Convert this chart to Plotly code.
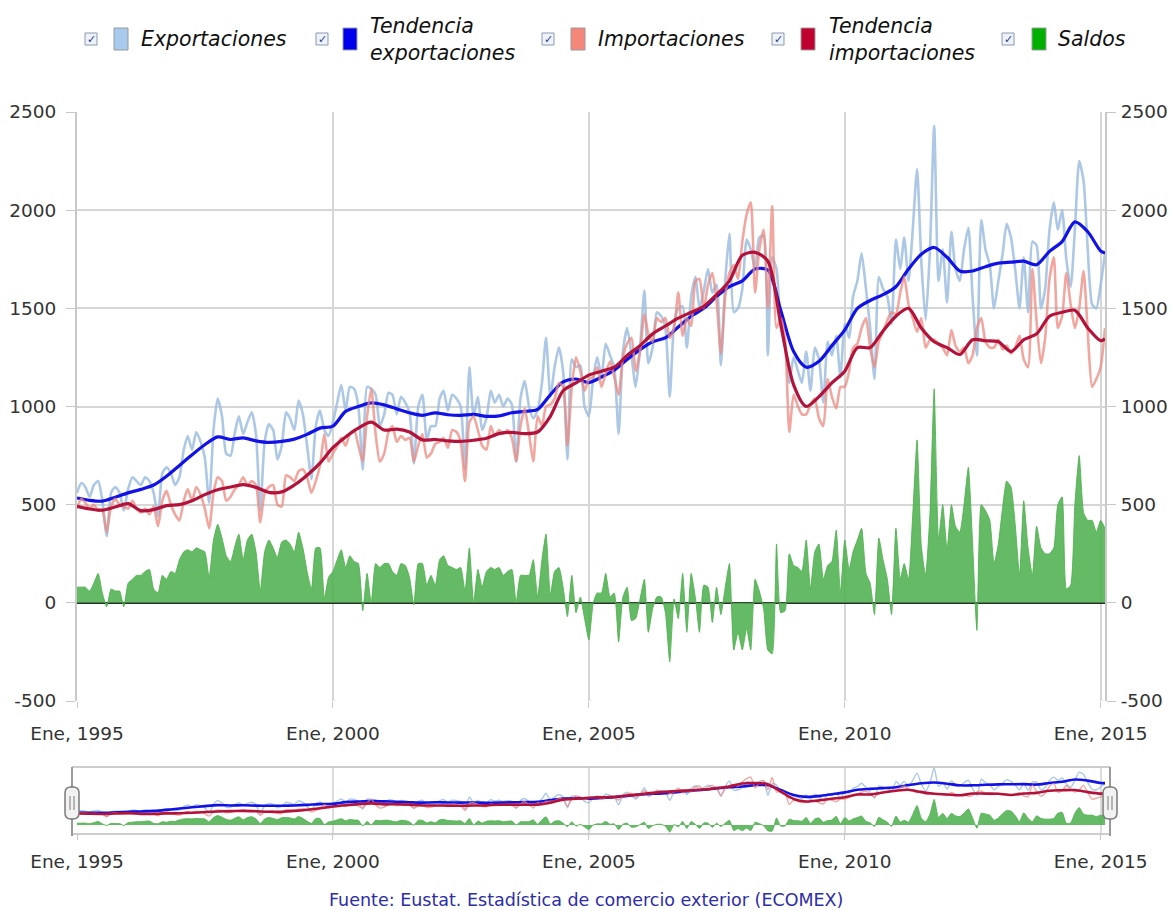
import pandas as pd
import plotly.graph_objects as go

# ---------------- DATA ----------------
months = pd.date_range("1995-01-01", "2015-02-01", freq="MS")

exportaciones = [
    560, 610, 590, 540, 600, 620, 520, 340, 560, 590, 560, 470,        # 1995
    580, 640, 620, 600, 640, 620, 560, 440, 660, 690, 660, 600,        # 1996
    640, 780, 850, 780, 870, 820, 740, 510, 880, 1040, 950, 760,       # 1997
    750, 870, 950, 860, 920, 970, 860, 470, 820, 910, 880, 730,        # 1998
    800, 970, 940, 880, 1030, 960, 800, 630, 900, 980, 880, 850,       # 1999
    920, 1020, 1110, 980, 1100, 1090, 1000, 680, 1100, 1090, 1060, 900,  # 2000
    960, 1070, 1060, 960, 1050, 1020, 970, 710, 1000, 1060, 830, 900,  # 2001
    900, 1040, 1080, 980, 1060, 1040, 1000, 680, 1200, 950, 1050, 880,  # 2002
    940, 1080, 1020, 1060, 1000, 1040, 1010, 720, 1040, 1130, 1000, 940,  # 2003
    980, 1120, 1350, 1050, 1200, 1300, 1180, 730, 1240, 1200, 1210, 1000,  # 2004
    950, 1150, 1250, 1150, 1320, 1260, 1200, 860, 1280, 1400, 1260, 1100,  # 2005
    1300, 1590, 1220, 1300, 1480, 1460, 1400, 1050, 1420, 1500, 1510, 1300,  # 2006
    1560, 1660, 1500, 1590, 1700, 1580, 1620, 1210, 1640, 1880, 1480, 1500,  # 2007
    1600, 1850, 1800, 1700, 1860, 1870, 1260, 1760, 1700, 1400, 1300, 1120,  # 2008
    1250, 1180, 1120, 1280, 1080, 1300, 1240, 1020, 1330, 1260, 1360, 1150,  # 2009
    1420, 1350, 1560, 1640, 1780, 1600, 1400, 1140, 1660, 1600, 1560, 1420,  # 2010
    1850, 1700, 1860, 1640, 1900, 2210, 1740, 1440, 1800, 2430, 1640, 1800,  # 2011
    1530, 1890, 1700, 1640, 1800, 1910, 1560, 1260, 1950, 1800, 1720, 1500,  # 2012
    1640, 1780, 1930, 1860, 1700, 1500, 1760, 1480, 1840, 1820, 1500, 1600,  # 2013
    1900, 2040, 1900, 2000, 1750, 1610, 1900, 2250, 2150, 1800, 1520, 1500,  # 2014
    1620, 1780,                                                          # 2015
]

importaciones = [
    480, 530, 510, 480, 500, 470, 470, 360, 490, 530, 500, 490,        # 1995
    480, 520, 480, 460, 480, 450, 490, 390, 520, 570, 500, 450,        # 1996
    420, 520, 580, 520, 590, 550, 480, 380, 560, 640, 620, 520,        # 1997
    540, 580, 600, 640, 600, 620, 600, 410, 560, 590, 600, 500,        # 1998
    490, 650, 640, 620, 670, 680, 640, 560, 620, 700, 860, 720,        # 1999
    760, 800, 840, 800, 860, 880, 800, 720, 950, 1090, 860, 720,       # 2000
    760, 870, 900, 820, 850, 830, 840, 720, 800, 860, 740, 760,        # 2001
    810, 820, 840, 790, 880, 870, 820, 620, 920, 950, 880, 800,        # 2002
    780, 900, 850, 880, 860, 880, 840, 720, 900, 990, 860, 720,        # 2003
    950, 900, 1000, 1010, 1040, 1120, 1100, 800, 1100, 1250, 1180, 1080,  # 2004
    1140, 1150, 1200, 1100, 1170, 1230, 1150, 1060, 1250, 1320, 1350, 1180,  # 2005
    1280, 1470, 1370, 1330, 1450, 1430, 1450, 1350, 1400, 1580, 1360, 1450,  # 2006
    1410, 1640, 1650, 1500, 1620, 1680, 1540, 1270, 1560, 1680, 1720, 1650,  # 2007
    1840, 1980, 2040, 1580, 1800, 1900, 1500, 2020, 1400, 1450, 1340, 870,  # 2008
    1060, 1000, 960, 960, 1010, 1040, 940, 900, 1140, 1050, 990, 1100,  # 2009
    1100, 1180, 1300, 1320, 1400, 1450, 1300, 1200, 1330, 1380, 1440, 1480,  # 2010
    1470, 1580, 1660, 1520, 1450, 1380, 1450, 1300, 1340, 1340, 1320, 1300,  # 2011
    1260, 1390, 1310, 1280, 1300, 1220, 1260, 1400, 1450, 1330, 1300, 1300,  # 2012
    1340, 1290, 1310, 1270, 1300, 1360, 1240, 1200, 1700, 1430, 1220, 1350,  # 2013
    1650, 1760, 1400, 1460, 1680, 1520, 1400, 1500, 1690, 1380, 1100, 1140,  # 2014
    1200, 1400,                                                          # 2015
]

# trade balance = exports - imports
saldos = [e - i for e, i in zip(exportaciones, importaciones)]

# trend series (quarterly readings: Jan, Apr, Jul, Oct; last value Feb 2015)
trend_dates = list(pd.date_range("1995-01-01", "2015-01-01", freq="QS")) + [pd.Timestamp("2015-02-01")]
tendencia_exportaciones = [
    534, 522, 518, 538,   560, 578, 600, 645,   700, 754, 805, 845,
    832, 840, 825, 817,   822, 834, 858, 890,   900, 975, 1000, 1018,
    1008, 988, 968, 955,  968, 958, 955, 960,   950, 952, 968, 975,
    985, 1060, 1125, 1140, 1122, 1150, 1185, 1240, 1290, 1330, 1350, 1405,
    1460, 1500, 1560, 1610, 1640, 1700, 1695, 1490, 1280, 1200, 1230, 1310,
    1390, 1500, 1540, 1570, 1610, 1700, 1775, 1810, 1760, 1690, 1690, 1712,
    1730, 1735, 1740, 1722, 1790, 1840, 1940, 1890, 1792, 1782,
]
tendencia_importaciones = [
    492, 478, 472, 488,   505, 470, 475, 495,   500, 520, 551, 576,
    590, 602, 588, 563,   565, 600, 650, 712,   790, 845, 890, 920,
    880, 885, 870, 830,   832, 825, 822, 828,   838, 862, 868, 862,
    870, 950, 1080, 1120, 1160, 1180, 1200, 1260, 1310, 1370, 1410, 1450,
    1480, 1510, 1570, 1640, 1770, 1785, 1740, 1420, 1110, 1000, 1050, 1120,
    1180, 1300, 1300, 1385, 1460, 1500, 1400, 1330, 1300, 1265, 1340, 1335,
    1330, 1280, 1340, 1370, 1460, 1480, 1490, 1400, 1335, 1345,
]

series_names = ["Exportaciones", "Tendencia<br>exportaciones", "Importaciones",
                "Tendencia<br>importaciones", "Saldos"]
tick_years = [1995, 2000, 2005, 2010, 2015]
tick_dates = [pd.Timestamp(f"{y}-01-01") for y in tick_years]
tick_text = [f"Ene, {y}" for y in tick_years]
y_ticks = [-500, 0, 500, 1000, 1500, 2000, 2500]
y_tick_text = [str(v) for v in y_ticks]
source_text = "Fuente: Eustat. Estadística de comercio exterior (ECOMEX)"

# ---------------- STYLE ----------------
W, H = 1172, 911
FONT = "DejaVu Sans"
C_EXP = "rgba(158,190,224,0.85)"
C_TEXP = "#1212e6"
C_IMP = "rgba(236,138,128,0.75)"
C_TIMP = "#b3123a"
C_SAL = "rgba(80,176,80,0.88)"
LEG_COLORS = ["#a8caee", "#0000ee", "#f4877a", "#c0002e", "#00b000"]


def px(x):
    return x / W


def py(y):
    return 1 - y / H


fig = go.Figure()


def add_series(xa, ya, nav=False):
    w_light = 1.4 if nav else 2.6
    w_trend = 2.6 if nav else 3.2
    fig.add_trace(go.Scatter(x=months, y=exportaciones, mode="lines", line=dict(color=C_EXP, width=w_light, shape="spline", smoothing=0.6),
                             xaxis=xa, yaxis=ya, hoverinfo="skip", showlegend=False))
    fig.add_trace(go.Scatter(x=trend_dates, y=tendencia_exportaciones, mode="lines", line=dict(color=C_TEXP, width=w_trend, shape="spline", smoothing=0.8),
                             xaxis=xa, yaxis=ya, hoverinfo="skip", showlegend=False))
    fig.add_trace(go.Scatter(x=months, y=importaciones, mode="lines", line=dict(color=C_IMP, width=w_light, shape="spline", smoothing=0.6),
                             xaxis=xa, yaxis=ya, hoverinfo="skip", showlegend=False))
    fig.add_trace(go.Scatter(x=trend_dates, y=tendencia_importaciones, mode="lines", line=dict(color=C_TIMP, width=w_trend, shape="spline", smoothing=0.8),
                             xaxis=xa, yaxis=ya, hoverinfo="skip", showlegend=False))
    fig.add_trace(go.Scatter(x=months, y=saldos, mode="lines", fill="tozeroy", fillcolor=C_SAL,
                             line=dict(color=C_SAL, width=1, shape="spline", smoothing=0.5),
                             xaxis=xa, yaxis=ya, hoverinfo="skip", showlegend=False))


add_series("x", "y")
# invisible trace so the right-hand axis gets drawn
fig.add_trace(go.Scatter(x=months[:1], y=saldos[:1], mode="markers", marker=dict(opacity=0),
                         xaxis="x", yaxis="y2", hoverinfo="skip", showlegend=False))
add_series("x2", "y3", nav=True)

tickfont = dict(family=FONT, size=18.5, color="#333333")
x_dom = [px(77), px(1105)]
x_range = [months[0], months[-1]]
nav_range = [min(saldos) - 40, max(exportaciones) + 40]

fig.update_layout(
    width=W, height=H, margin=dict(l=0, r=0, t=0, b=0), autosize=False,
    paper_bgcolor="white", plot_bgcolor="white", showlegend=False,
    xaxis=dict(domain=x_dom, range=x_range, anchor="y", tickvals=tick_dates, ticktext=tick_text,
               showgrid=True, gridcolor="#d6d6d6", gridwidth=1.5, zeroline=False, showline=False,
               ticks="outside", ticklen=6, tickcolor="#c8c8c8", tickfont=tickfont,
               ticklabelstandoff=10, automargin=False, fixedrange=True),
    yaxis=dict(domain=[py(701), py(112)], range=[-500, 2500], anchor="x", tickvals=y_ticks,
               ticktext=y_tick_text,
               showgrid=True, gridcolor="#d6d6d6", gridwidth=1.5,
               zeroline=True, zerolinecolor="#2b2b2b", zerolinewidth=2,
               showline=True, linecolor="#c8c8c8", linewidth=2,
               ticks="outside", ticklen=9, tickcolor="#c8c8c8", tickfont=tickfont,
               ticklabelstandoff=6, automargin=False, fixedrange=True),
    yaxis2=dict(overlaying="y", side="right", anchor="x", range=[-500, 2500], tickvals=y_ticks,
                ticktext=y_tick_text,
                showgrid=False, zeroline=False, showline=True, linecolor="#c8c8c8", linewidth=2,
                ticks="outside", ticklen=9, tickcolor="#c8c8c8", tickfont=tickfont,
                ticklabelstandoff=1, automargin=False, fixedrange=True),
    xaxis2=dict(domain=x_dom, range=x_range, anchor="y3", tickvals=tick_dates, ticktext=tick_text,
                showgrid=True, gridcolor="#dcdcdc", gridwidth=1.5, zeroline=False, showline=False,
                ticks="outside", ticklen=6, tickcolor="#c8c8c8", tickfont=tickfont,
                ticklabelstandoff=6, automargin=False, fixedrange=True),
    yaxis3=dict(domain=[py(833), py(767)], range=nav_range, anchor="x2", showgrid=False,
                zeroline=False, showline=False, showticklabels=False, ticks="", fixedrange=True),
)

shapes = []
annotations = []

# ---- custom legend ----
leg_pos = [(91, 121, 139), (322, 350, 368), (548, 578, 596), (778, 808, 827), (1008, 1039, 1056)]
LEG_Y = 39
for name, col, (cb, sw, tx) in zip(series_names, LEG_COLORS, leg_pos):
    shapes.append(dict(type="rect", xref="paper", yref="paper", x0=px(cb - 6), x1=px(cb + 6),
                       y0=py(LEG_Y + 6), y1=py(LEG_Y - 6), fillcolor="#eef2fa",
                       line=dict(color="#8c99b3", width=1)))
    annotations.append(dict(x=px(cb), y=py(LEG_Y), xref="paper", yref="paper", text="✓",
                            showarrow=False, xanchor="center", yanchor="middle",
                            font=dict(family=FONT, size=11, color="#2c3f8c")))
    shapes.append(dict(type="rect", xref="paper", yref="paper", x0=px(sw - 7), x1=px(sw + 7),
                       y0=py(LEG_Y + 11), y1=py(LEG_Y - 11), fillcolor=col,
                       line=dict(color="#9a9a9a", width=1)))
    annotations.append(dict(x=px(tx), y=py(LEG_Y), xref="paper", yref="paper",
                            text=f"<i>{name}</i>", showarrow=False, xanchor="left", yanchor="middle",
                            align="left", font=dict(family=FONT, size=20.5, color="#111111")))

# ---- navigator frame and handles ----
NAV_T, NAV_B = 767, 834
for yy in (NAV_T, NAV_B):
    shapes.append(dict(type="line", xref="paper", yref="paper", x0=px(72), x1=px(1110),
                       y0=py(yy), y1=py(yy), line=dict(color="#bdbdbd", width=1.5)))
for hx in (72, 1110):
    shapes.append(dict(type="line", xref="paper", yref="paper", x0=px(hx), x1=px(hx),
                       y0=py(NAV_T), y1=py(NAV_B + 2), line=dict(color="#9a9a9a", width=2)))
    x0, x1, y0, y1, r = hx - 7, hx + 7, 787, 819, 6
    path = (f"M {px(x0 + r)},{py(y0)} L {px(x1 - r)},{py(y0)} Q {px(x1)},{py(y0)} {px(x1)},{py(y0 + r)} "
            f"L {px(x1)},{py(y1 - r)} Q {px(x1)},{py(y1)} {px(x1 - r)},{py(y1)} "
            f"L {px(x0 + r)},{py(y1)} Q {px(x0)},{py(y1)} {px(x0)},{py(y1 - r)} "
            f"L {px(x0)},{py(y0 + r)} Q {px(x0)},{py(y0)} {px(x0 + r)},{py(y0)} Z")
    shapes.append(dict(type="path", xref="paper", yref="paper", path=path, fillcolor="#f2f2f2",
                       line=dict(color="#7a7a7a", width=1.5)))
    for dx in (-2, 2):
        shapes.append(dict(type="line", xref="paper", yref="paper", x0=px(hx + dx), x1=px(hx + dx),
                           y0=py(796), y1=py(810), line=dict(color="#7a7a7a", width=1)))

# ---- source ----
annotations.append(dict(x=0.5, y=py(900), xref="paper", yref="paper", text=source_text,
                        showarrow=False, xanchor="center", yanchor="middle",
                        font=dict(family=FONT, size=17.5, color="#2d2da8")))

fig.update_layout(shapes=shapes, annotations=annotations)
fig.write_html("out.html", config={"displayModeBar": False},
               post_script="document.body.style.margin='0px';document.body.style.overflow='hidden';")
